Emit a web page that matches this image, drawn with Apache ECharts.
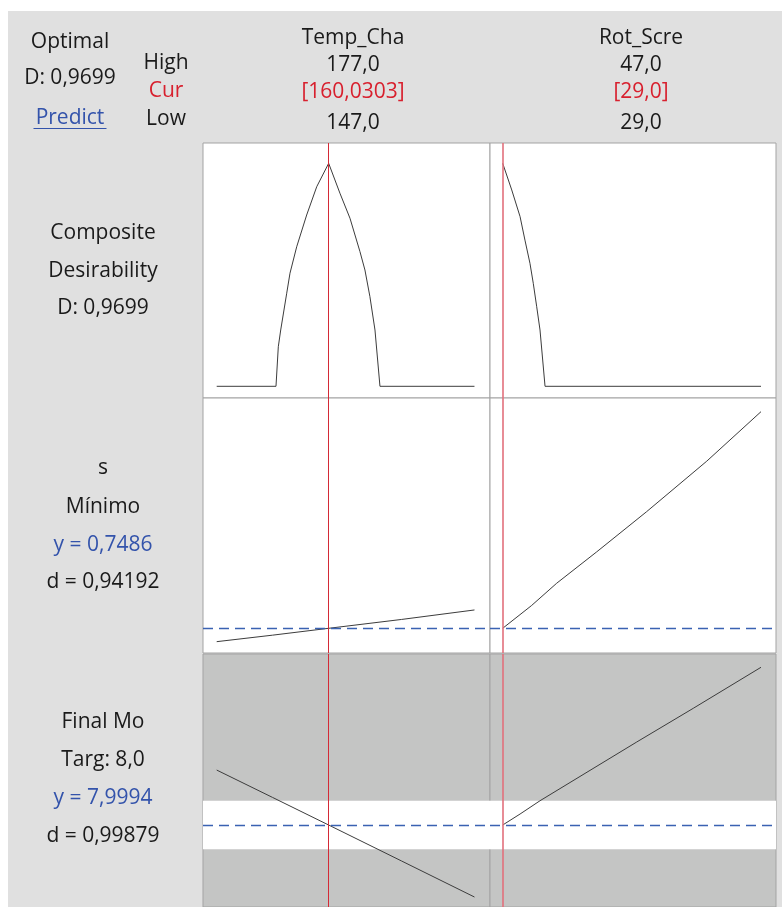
<!DOCTYPE html>
<html>
<head>
<meta charset="utf-8">
<title>Response Optimizer</title>
<script src="https://cdn.jsdelivr.net/npm/echarts@6/dist/echarts.min.js"></script>
<style>
  html, body { margin: 0; padding: 0; background: #ffffff; }
  #chart { width: 782px; height: 907px; }
</style>
</head>
<body>
<div id="chart"></div>
<script>
// Factors (columns) and their settings
const factorNames = ['Temp_Cha', 'Rot_Scre'];
const factorHigh = [177.0, 47.0];
const factorLow = [147.0, 29.0];
const factorCurrent = [160.0303, 29.0];
const currentDecimals = [4, 1];

// Optimum summary
const compositeD = 0.9699;
const sPredicted = 0.7486;
const sDesirability = 0.94192;
const fmTarget = 8.0;
const fmLower = 7.5;
const fmUpper = 8.5;
const fmPredicted = 7.9994;
const fmDesirability = 0.99879;

// Composite desirability traces
const desirTemp = [[147, 0], [153.9, 0], [154.17, 0.172], [154.45, 0.245], [155.15, 0.405],
  [155.53, 0.492], [156.31, 0.607], [157.47, 0.745], [158.64, 0.868], [160.0303, 0.9699],
  [161.34, 0.840], [162.51, 0.731], [163.67, 0.586], [164.25, 0.506], [164.83, 0.390],
  [165.42, 0.245], [166.0, 0], [177, 0]];
const desirRot = [[29, 0.9699], [29.63, 0.854], [30.21, 0.738], [30.55, 0.636], [30.90, 0.535],
  [31.13, 0.448], [31.37, 0.346], [31.60, 0.245], [31.95, 0], [47, 0]];

// Response "s" traces
const sTemp = [[147, 0.615], [153.5, 0.68], [160.0303, 0.7486], [168.5, 0.837], [177, 0.932]];
const sRot = [[29, 0.7486], [31.0, 0.975], [32.76, 1.199], [35.55, 1.513], [39.03, 1.915], [43.22, 2.420], [47, 2.915]];

// Response "Final Mo" traces
const fmTemp = [[147, 9.128], [153.5, 8.566], [160.0303, 7.9994], [168.5, 7.262], [177, 6.521]];
const fmRot = [[29, 7.9994], [30.21, 8.225], [31.60, 8.498], [38.34, 9.704], [42.28, 10.396], [47, 11.238]];

const fmt = (v, d) => v.toFixed(d).replace('.', ',');

const FONT = '"Open Sans", "Noto Sans", sans-serif';
const FONT_SIZE = 21;
const BLACK = '#1a1a1a';
const RED = '#d8202e';
const BLUE = '#3353ab';
const DASH_BLUE = '#3a62b2';

// Panel layout
const colLeft = [203, 490];
const colWidth = [287, 286];
const rowTop = [143, 398, 654];
const rowHeight = [255, 255, 253];
const xRange = [[145.406, 178.806], [28.115, 48.045]];
const yRange = [[-0.0509, 1.0583], [0.5016, 3.0516], [6.316, 11.511]];

const curves = [
  [desirTemp, desirRot],
  [sTemp, sRot],
  [fmTemp, fmRot]
];
const predictedLine = [null, sPredicted, fmPredicted];

const grids = [], xAxes = [], yAxes = [], series = [];
for (let r = 0; r < 3; r++) {
  for (let c = 0; c < 2; c++) {
    const idx = grids.length;
    grids.push({
      left: colLeft[c], top: rowTop[r], width: colWidth[c], height: rowHeight[r],
      show: true,
      backgroundColor: r === 2 ? '#c4c5c4' : '#ffffff',
      borderColor: '#a3a3a3', borderWidth: 1
    });
    xAxes.push({ type: 'value', gridIndex: idx, min: xRange[c][0], max: xRange[c][1], show: false });
    yAxes.push({ type: 'value', gridIndex: idx, min: yRange[r][0], max: yRange[r][1], show: false });

    if (r === 2) {
      // acceptable band for the target response
      series.push({
        type: 'line', xAxisIndex: idx, yAxisIndex: idx, data: [], z: 1, silent: true,
        markArea: {
          silent: true,
          itemStyle: { color: '#ffffff', opacity: 1 },
          data: [[{ yAxis: fmLower }, { yAxis: fmUpper }]]
        }
      });
    }

    // the response trace with the current-setting line
    series.push({
      type: 'line', xAxisIndex: idx, yAxisIndex: idx,
      data: curves[r][c],
      showSymbol: false, symbol: 'none', z: 3,
      lineStyle: { color: '#3c3c3c', width: 1 },
      markLine: {
        silent: true, symbol: 'none', label: { show: false },
        animation: false,
        lineStyle: { color: c === 0 ? '#d42a36' : '#e2707c', width: c === 0 ? 1 : 1.6, type: 'solid' },
        data: [{ xAxis: factorCurrent[c] }]
      }
    });

    // predicted response level
    if (predictedLine[r] !== null) {
      series.push({
        type: 'line', xAxisIndex: idx, yAxisIndex: idx, data: [], z: 2, silent: true,
        color: DASH_BLUE,
        markLine: {
          silent: true, symbol: 'none', label: { show: false },
          animation: false,
          lineStyle: { color: DASH_BLUE, width: 1.3, type: [10, 6], opacity: 1 },
          data: [{ yAxis: predictedLine[r] }]
        }
      });
    }
  }
}

function txt(s, x, y, color) {
  return {
    type: 'text', silent: true, z: 10,
    style: {
      text: s, x: x, y: y, fill: color || BLACK,
      font: FONT_SIZE + 'px ' + FONT,
      textAlign: 'center', textVerticalAlign: 'middle',
      align: 'center', verticalAlign: 'middle'
    }
  };
}

const graphics = [
  { type: 'rect', z: -10, silent: true, shape: { x: 8, y: 11, width: 774, height: 896 }, style: { fill: '#e0e0e0' } },
  txt('Optimal', 70, 42),
  txt('D: ' + fmt(compositeD, 4), 70, 78),
  txt('Predict', 70, 118, BLUE),
  { type: 'line', silent: true, z: 10, shape: { x1: 33.5, y1: 128.5, x2: 106.5, y2: 128.5 }, style: { stroke: BLUE, lineWidth: 1 } },
  txt('High', 166, 63),
  txt('Cur', 166, 91, RED),
  txt('Low', 166, 119)
];
const headerX = [353, 641];
for (let c = 0; c < 2; c++) {
  graphics.push(txt(factorNames[c], headerX[c], 38.5));
  graphics.push(txt(fmt(factorHigh[c], 1), headerX[c], 65));
  graphics.push(txt('[' + fmt(factorCurrent[c], currentDecimals[c]) + ']', headerX[c], 92.5, RED));
  graphics.push(txt(fmt(factorLow[c], 1), headerX[c], 123.5));
}
const labelX = 103;
graphics.push(
  txt('Composite', labelX, 233.5),
  txt('Desirability', labelX, 271.5),
  txt('D: ' + fmt(compositeD, 4), labelX, 308.5),
  txt('s', labelX, 468.5),
  txt('Mínimo', labelX, 507.5),
  txt('y = ' + fmt(sPredicted, 4), labelX, 545),
  txt('d = ' + fmt(sDesirability, 5), labelX, 582),
  txt('Final Mo', labelX, 722.5),
  txt('Targ: ' + fmt(fmTarget, 1), labelX, 760),
  txt('y = ' + fmt(fmPredicted, 4), labelX, 798),
  txt('d = ' + fmt(fmDesirability, 5), labelX, 836)
);
// predicted values are shown in blue
graphics[graphics.length - 6].style.fill = BLUE;
graphics[graphics.length - 2].style.fill = BLUE;

const chart = echarts.init(document.getElementById('chart'), null, { renderer: 'canvas' });
chart.setOption({
  animation: false,
  backgroundColor: '#ffffff',
  grid: grids,
  xAxis: xAxes,
  yAxis: yAxes,
  series: series,
  graphic: { elements: graphics }
});
</script>
</body>
</html>
